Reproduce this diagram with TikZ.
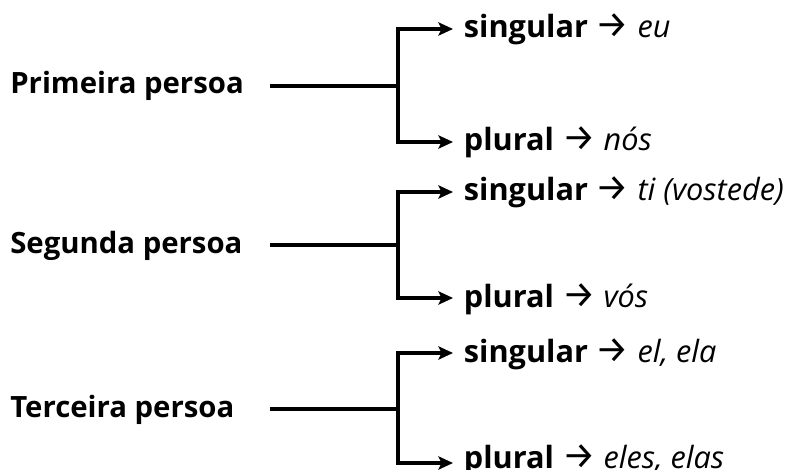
\documentclass[tikz,border=0pt]{standalone}
\usepackage{fontspec}
\setmainfont{Open Sans}
\newfontfamily\frechafont{Fira Sans}
\usetikzlibrary{arrows.meta}

\newcommand{\fr}{{\frechafont\fontsize{28}{28}\selectfont →}}

\begin{document}
\begin{tikzpicture}[
  x=0.75pt,
  y=-0.75pt,
  persoa/.style={anchor=base west, inner sep=0, font=\fontsize{22}{26}\selectfont\bfseries},
  forma/.style={anchor=west, inner xsep=8pt, inner ysep=0,
    text height=13.5pt, text depth=0pt, font=\fontsize{23}{26}\selectfont},
  rama/.style={line width=2.4pt},
  frecha/.style={rama, -{Stealth[length=11pt, width=10pt, inset=2.5pt]}}
]

%--------------------
% Marco
%--------------------
\useasboundingbox (0,0) rectangle (788,470);

%--------------------
% Persoas e ramas
%--------------------
\foreach \i/\ym/\ys/\yp/\hp/\nome/\sg/\pl in {
  1/86/29/142/13.5/Primeira persoa/eu/nós,
  2/245/192/298/13.5/Segunda persoa/ti (vostede)/vós,
  3/409/353/463/8/Terceira persoa/{el, ela}/{eles, elas}} {
  \node[persoa] (persoa\i) at (10,\ym+8) {\nome};
  \coordinate (ini\i) at (270,\ym);
  \coordinate (rama\i) at (398,\ym);

  \node[forma] (sing\i) at (453,\ys) {\textbf{singular} \fr{} \textit{\sg}};
  \node[forma, text height=\hp pt] (plur\i) at (453,\yp) {\textbf{plural} \fr{} \textit{\pl}};

  \draw[rama] (ini\i) -- (rama\i);
  \draw[frecha] (rama\i) |- (sing\i.west);
  \draw[frecha] (rama\i) |- (plur\i.west);
}

\end{tikzpicture}
\end{document}
